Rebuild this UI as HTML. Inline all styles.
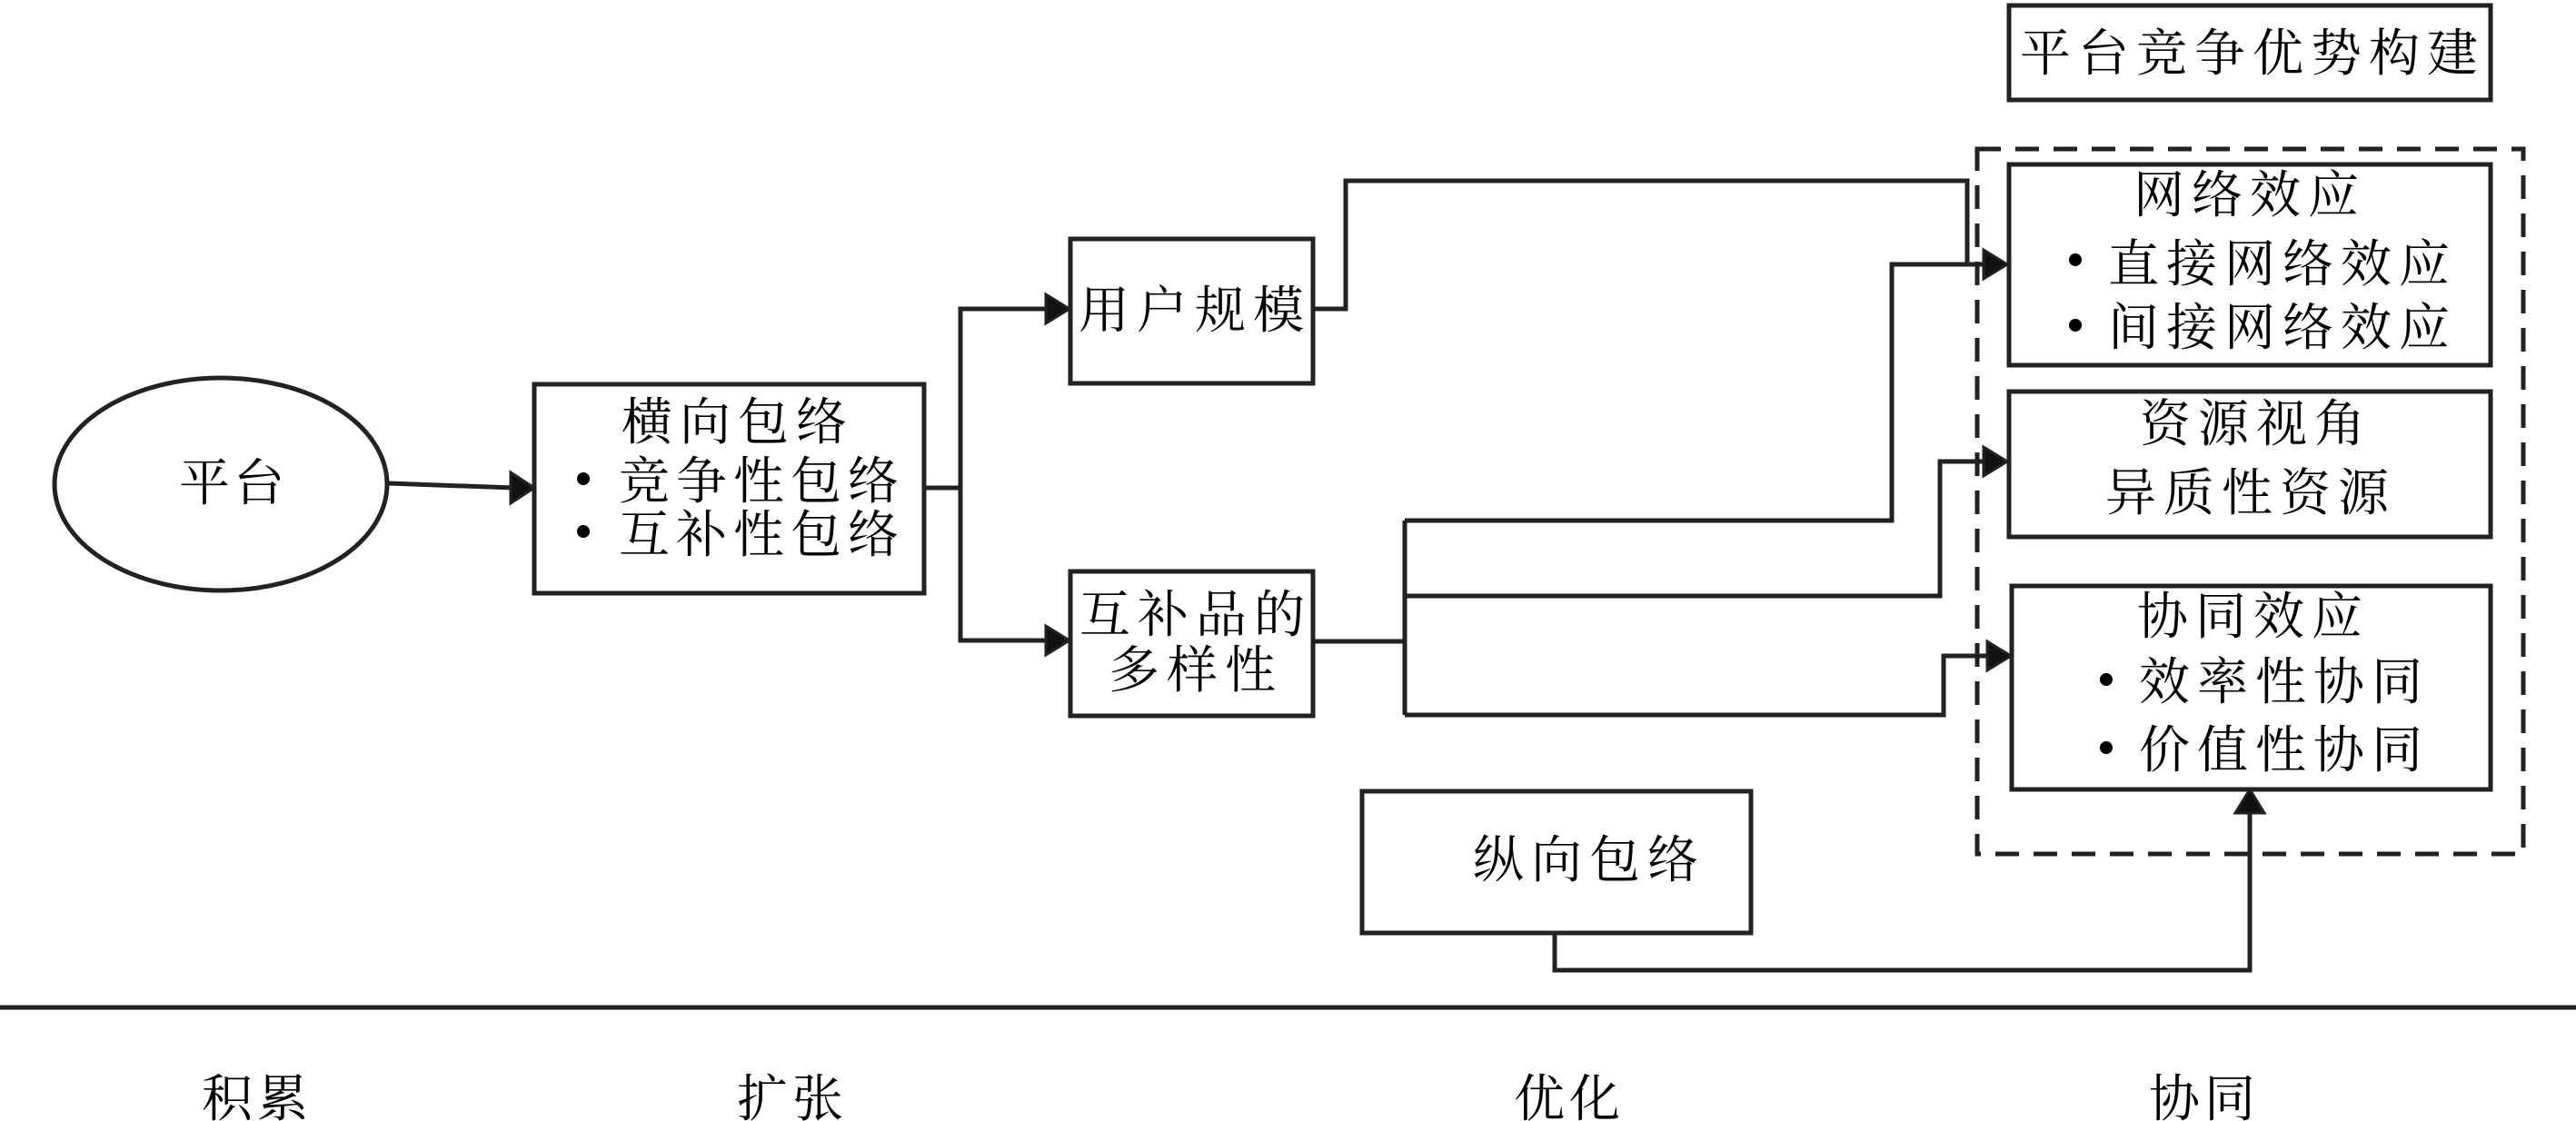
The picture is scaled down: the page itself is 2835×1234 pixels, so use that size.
<!DOCTYPE html>
<html>
<head>
<meta charset="utf-8">
<style>
  html,body{margin:0;padding:0;background:#fff;}
  svg{display:block;}
  text{font-family:"Liberation Serif","Noto Serif CJK SC","Noto Sans CJK SC",serif;font-size:56px;fill:#000;}
</style>
</head>
<body>
<svg width="2835" height="1234" viewBox="0 0 2835 1234" xmlns="http://www.w3.org/2000/svg">
  <rect x="0" y="0" width="2835" height="1234" fill="#fff"/>

  <g fill="none" stroke="#222" stroke-width="5">
    <!-- Ellipse -->
    <ellipse cx="243" cy="533" rx="183" ry="117"/>
    <!-- 横向包络 box -->
    <rect x="588" y="423" width="429" height="230"/>
    <!-- 用户规模 -->
    <rect x="1178" y="263" width="267" height="159"/>
    <!-- 互补品的多样性 -->
    <rect x="1178" y="629" width="267" height="159"/>
    <!-- 纵向包络 -->
    <rect x="1499" y="871" width="428" height="156"/>
    <!-- Top title box -->
    <rect x="2211" y="6" width="530" height="104"/>
    <!-- 网络效应 -->
    <rect x="2211" y="181" width="530" height="221"/>
    <!-- 资源视角 -->
    <rect x="2211" y="431" width="530" height="160"/>
    <!-- 协同效应 -->
    <rect x="2214" y="645" width="527" height="224"/>
    <!-- dashed container -->
    <rect x="2176" y="164" width="601" height="776" stroke-dasharray="26 16"/>

    <!-- connectors -->
    <line x1="427" y1="532" x2="566" y2="537"/>
    <polyline points="1017,537 1057,537"/>
    <polyline points="1152,340 1057,340 1057,705 1152,705"/>
    <polyline points="1445,340 1481,340 1481,199 2165,199 2165,291 2183,291"/>
    <polyline points="1445,706 1546,706"/>
    <polyline points="1546,573 1546,787"/>
    <polyline points="1546,573 2082,573 2082,291 2183,291"/>
    <polyline points="1546,656 2135,656 2135,508 2183,508"/>
    <polyline points="1546,787 2139,787 2139,722 2186,722"/>
    <polyline points="1711,1027 1711,1068 2476,1068 2476,893"/>

    <!-- separator -->
    <line x1="0" y1="1109" x2="2835" y2="1109"/>
  </g>

  <!-- arrowheads -->
  <g fill="#111" stroke="#222" stroke-width="3" stroke-linejoin="miter">
    <polygon points="588,537 562,520 562,554"/>
    <polygon points="1177,340 1151,324 1151,356"/>
    <polygon points="1177,705 1151,689 1151,721"/>
    <polygon points="2209,291 2183,275 2183,307"/>
    <polygon points="2209,508 2183,492 2183,524"/>
    <polygon points="2213,722 2187,706 2187,738"/>
    <polygon points="2476,869 2460,895 2492,895"/>
  </g>

  <!-- bullets -->
  <g fill="#000">
    <circle cx="642" cy="527" r="7"/>
    <circle cx="642" cy="585" r="7"/>
    <circle cx="2284" cy="286" r="7"/>
    <circle cx="2284" cy="358" r="7"/>
    <circle cx="2318" cy="748" r="7"/>
    <circle cx="2318" cy="823" r="7"/>
  </g>

  <!-- texts -->
  <text x="197 257" y="551">平台</text>

  <text x="684 748 812 876" y="484">横向包络</text>
  <text x="681 744 807 870 933" y="549">竞争性包络</text>
  <text x="681 744 807 870 933" y="608">互补性包络</text>

  <text x="1187 1251 1315 1379" y="361">用户规模</text>
  <text x="1188 1252 1316 1380" y="696">互补品的</text>
  <text x="1220 1284 1348" y="757">多样性</text>

  <text x="1621 1685 1749 1813" y="966">纵向包络</text>

  <text x="2223 2287 2351 2415 2479 2543 2607 2671" y="78">平台竞争优势构建</text>

  <text x="2348 2412 2476 2540" y="234">网络效应</text>
  <text x="2320 2384 2448 2512 2576 2640" y="310">直接网络效应</text>
  <text x="2320 2384 2448 2512 2576 2640" y="380">间接网络效应</text>

  <text x="2355 2419 2483 2547" y="486">资源视角</text>
  <text x="2317 2381 2445 2509 2573" y="562">异质性资源</text>

  <text x="2352 2416 2480 2544" y="698">协同效应</text>
  <text x="2354 2418 2482 2546 2610" y="770">效率性协同</text>
  <text x="2354 2418 2482 2546 2610" y="845">价值性协同</text>

  <text x="222 283" y="1229">积累</text>
  <text x="811 872" y="1229">扩张</text>
  <text x="1666 1727" y="1229">优化</text>
  <text x="2365 2426" y="1229">协同</text>
</svg>
</body>
</html>
